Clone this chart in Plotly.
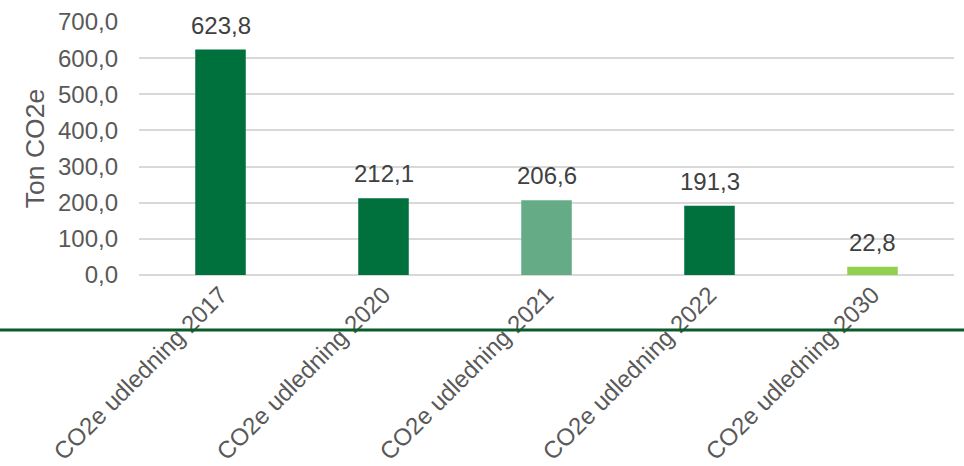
import plotly.graph_objects as go

categories = ["CO2e udledning 2017", "CO2e udledning 2020", "CO2e udledning 2021",
              "CO2e udledning 2022", "CO2e udledning 2030"]
values = [623.8, 212.1, 206.6, 191.3, 22.8]
bar_colors = ["#00703C", "#00703C", "#65AC86", "#00703C", "#92D050"]
y_ticks = [0, 100, 200, 300, 400, 500, 600, 700]

fig = go.Figure()
fig.add_trace(go.Bar(
    x=categories, y=values,
    marker=dict(color=bar_colors, line=dict(width=0)),
    width=0.31,
    hoverinfo="x+y",
))

for cat, val in zip(categories, values):
    fig.add_annotation(
        x=cat, y=val, text=f"{val:.1f}".replace(".", ","),
        showarrow=False, yanchor="bottom", yshift=9,
        font=dict(family="Liberation Sans, Arial", size=24, color="#404040"),
    )

fig.update_layout(
    width=964, height=466,
    margin=dict(l=139, r=10, t=22, b=191, autoexpand=False),
    paper_bgcolor="white", plot_bgcolor="white",
    separators=",.",
    showlegend=False,
    font=dict(family="Liberation Sans, Arial", size=24, color="#595959"),
    xaxis=dict(
        tickangle=-45, showgrid=False, showline=False, ticks="",
        automargin=False,
        tickfont=dict(size=24, color="#595959"),
    ),
    yaxis=dict(
        range=[0, 700], tickvals=y_ticks, tickformat=".1f",
        automargin=False,
        showgrid=True, gridcolor="#D9D9D9", gridwidth=2,
        zeroline=True, zerolinecolor="#D9D9D9", zerolinewidth=2,
        showline=False, ticks="", ticklabelstandoff=20,
        tickfont=dict(size=24, color="#595959"),
        title=dict(text="Ton CO2e", font=dict(size=26.5, color="#595959"), standoff=5),
    ),
    shapes=[dict(type="line", xref="paper", yref="paper",
                 x0=-139/815, x1=1 + 10/815, y0=-55/253, y1=-55/253,
                 line=dict(color="#0B5A2A", width=3), layer="above")],
)

fig.write_html("out.html", config={"displayModeBar": False},
               post_script="document.body.style.margin='0';document.body.style.overflow='hidden';")
